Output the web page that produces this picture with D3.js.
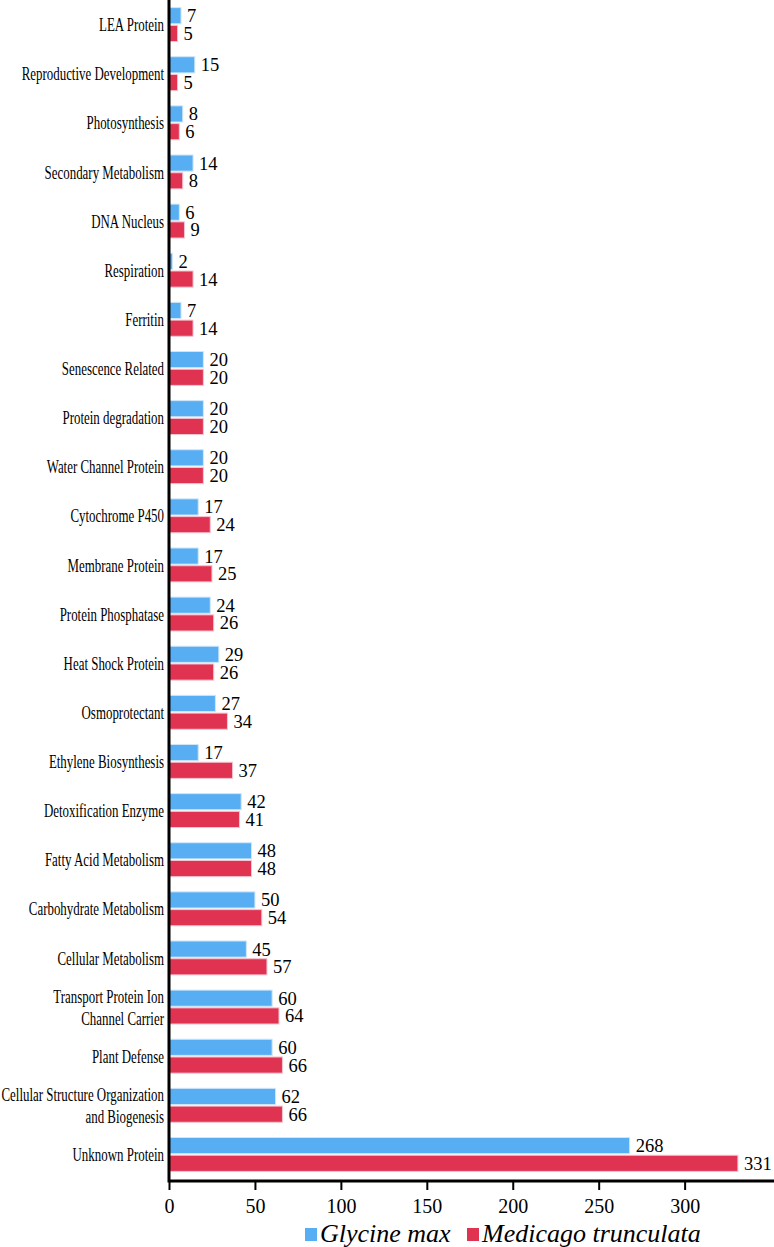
<html>
<meta charset="utf-8">

<head>
    <script src="https://d3js.org/d3.v7.min.js"></script>
    <style>
        body {
            margin: 0;
        }

        * {
            font-family: "Liberation Serif", "Times New Roman", serif;
        }

        .catLabel {
            font-size: 19px;
        }

        .valLabel {
            font-size: 18.5px;
        }

        .legendLabel {
            font-size: 26px;
            font-style: italic;
        }

        .xaxis text {
            font-size: 20px;
        }
    </style>
</head>

<svg id="barchart" height="1247" width="774"></svg>

<script>
    // categories, top to bottom
    const categories = [
        "LEA Protein", "Reproductive Development", "Photosynthesis", "Secondary Metabolism",
        "DNA Nucleus", "Respiration", "Ferritin", "Senescence Related", "Protein degradation",
        "Water Channel Protein", "Cytochrome P450", "Membrane Protein", "Protein Phosphatase",
        "Heat Shock Protein", "Osmoprotectant", "Ethylene Biosynthesis", "Detoxification Enzyme",
        "Fatty Acid Metabolism", "Carbohydrate Metabolism", "Cellular Metabolism",
        "Transport Protein Ion\nChannel Carrier", "Plant Defense",
        "Cellular Structure Organization\nand Biogenesis", "Unknown Protein"
    ];
    const glycine = [7, 15, 8, 14, 6, 2, 7, 20, 20, 20, 17, 17, 24, 29, 27, 17, 42, 48, 50, 45, 60, 60, 62, 268];
    const medicago = [5, 5, 6, 8, 9, 14, 14, 20, 20, 20, 24, 25, 26, 26, 34, 37, 41, 48, 54, 57, 64, 66, 66, 331];
    const seriesNames = ["Glycine max", "Medicago trunculata"];
    const xTicks = [0, 50, 100, 150, 200, 250, 300];

    const svg = d3.select('svg#barchart');
    const margin = { top: 0, left: 169, right: 0 };
    const plotBottom = 1179;
    const axisY = 1181;
    const colors = { "Glycine max": "#58aef3", "Medicago trunculata": "#e03352" };
    const strokes = { "Glycine max": "#cde6fb", "Medicago trunculata": "#f6c4cf" };

    const rows = categories.map((c, i) => ({
        name: c,
        values: [
            { series: seriesNames[0], v: glycine[i] },
            { series: seriesNames[1], v: medicago[i] }
        ]
    }));

    const xScale = d3.scaleLinear().domain([0, 352]).range([margin.left, 774]);
    const yScale = d3.scaleBand().domain(categories).range([0, plotBottom])
        .paddingInner(0.31).paddingOuter(0.155);
    const ySub = d3.scaleBand().domain(seriesNames).range([0, yScale.bandwidth()]).paddingInner(0.09);

    // bars
    let groups = svg.append('g').attr('id', 'bars')
        .selectAll('g.group').data(rows)
        .join('g')
        .attr('class', 'group')
        .attr('transform', d => `translate(0,${yScale(d.name)})`);

    groups.selectAll('rect').data(d => d.values)
        .join('rect')
        .attr('x', xScale(0))
        .attr('y', d => ySub(d.series))
        .attr('width', d => xScale(d.v) - xScale(0))
        .attr('height', ySub.bandwidth())
        .attr('fill', d => colors[d.series])
        .attr('stroke', d => strokes[d.series])
        .attr('stroke-width', 1);

    groups.selectAll('text.valLabel').data(d => d.values)
        .join('text')
        .attr('class', 'valLabel')
        .attr('x', d => xScale(d.v) + 6)
        .attr('y', d => ySub(d.series) + ySub.bandwidth() / 2)
        .attr('dy', '0.35em')
        .text(d => d.v);

    // category labels (condensed serif)
    const labelX = margin.left - 5;
    let catLabels = svg.append('g').attr('id', 'catLabels')
        .selectAll('text').data(categories)
        .join('text')
        .attr('class', 'catLabel')
        .attr('text-anchor', 'end')
        .attr('transform', d => `translate(${labelX},${yScale(d) + yScale.bandwidth() / 2}) scale(0.68,1)`);

    catLabels.each(function (d) {
        const lines = d.split('\n');
        const t = d3.select(this);
        lines.forEach((line, i) => {
            t.append('tspan')
                .attr('x', 0)
                .attr('y', (i - (lines.length - 1) / 2) * 22)
                .attr('dy', '0.35em')
                .text(line);
        });
    });

    // axes
    let xAxis = d3.axisBottom(xScale).tickValues(xTicks).tickSize(9).tickPadding(9);
    let xg = svg.append('g').attr('class', 'xaxis')
        .attr('transform', `translate(0,${axisY})`)
        .call(xAxis);
    xg.select('.domain').remove();
    xg.selectAll('.tick line').attr('stroke', '#000').attr('stroke-width', 2);

    svg.append('line')
        .attr('x1', margin.left).attr('x2', 774)
        .attr('y1', axisY).attr('y2', axisY)
        .attr('stroke', '#000').attr('stroke-width', 3);
    svg.append('line')
        .attr('x1', margin.left).attr('x2', margin.left)
        .attr('y1', 0).attr('y2', axisY + 1.5)
        .attr('stroke', '#000').attr('stroke-width', 3);

    // legend
    const legendX = [305, 467];
    let legend = svg.append('g').attr('id', 'legend');
    legend.selectAll('rect').data(seriesNames)
        .join('rect')
        .attr('x', (d, i) => legendX[i])
        .attr('y', 1228)
        .attr('width', 12)
        .attr('height', 13)
        .attr('fill', d => colors[d]);
    legend.selectAll('text').data(seriesNames)
        .join('text')
        .attr('class', 'legendLabel')
        .attr('x', (d, i) => legendX[i] + 15)
        .attr('y', 1242)
        .text(d => d);
</script>

</html>
